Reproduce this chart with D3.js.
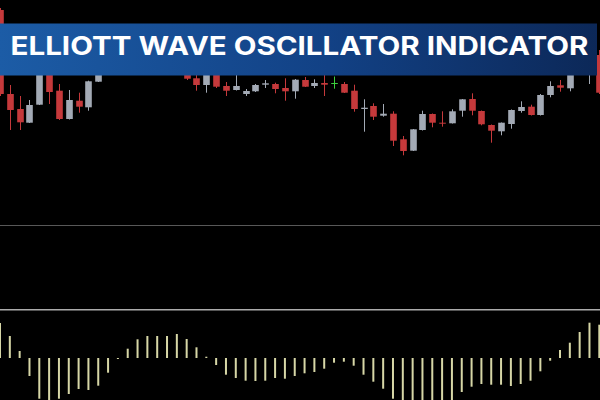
<!DOCTYPE html>
<html>
<head>
<meta charset="utf-8">
<script src="https://cdn.jsdelivr.net/npm/d3@7"></script>
<style>
  html, body { margin: 0; padding: 0; background: #000; }
  svg { display: block; }
</style>
</head>
<body>
<svg id="chart" width="600" height="400"></svg>
<script>
// ---- data ----
const title = "ELLIOTT WAVE OSCILLATOR INDICATOR";
const bars = d3.range(62);
const opens  = [190,106,91,77.3,95.3,140,109.3,81,99.3,92.7,118.3,140,155,145,164,172,160,170,150,138,121.7,115,136,114,110,106,108.7,115.3,116,112,108.7,120,114,117,117,116,109.3,91,94,84.3,86.3,60.7,49.3,70,86,77.3,76.7,89.3,101,89,75,68.7,76,89,93.3,85,105,114.7,111.7,130,128,145];
const highs  = [192,115,104,100,145,145,116,110,107.3,119.3,155,160,162,170,176,175,174,172,155,142,126,138,140,118,126,111,116,120,117.3,121.7,121,123,120.7,126,123.5,118,115.3,100.7,96.7,96,88.7,64,71,89.3,86.5,88.7,90.7,101,106.7,89.5,75.5,77.5,90.5,98.7,95.3,106,118.7,120,134,145,150,150];
const lows   = [104,70,70,77,95,96,80,80.5,87.3,89.3,118,135,140,142,158,154,152,146,132,120,109.3,107.3,112,104,109.5,104,108,112,106.7,99.3,101.3,113,112,104,111.3,107,88.3,68.3,80,83.3,54,44.7,49,69.5,72.7,73.3,76.5,83.3,84.7,74.7,57.3,64.7,71.3,87.3,84.5,84.5,102.7,108.3,108.7,126,116,106];
const closes = [106,90,77.7,95,140,108,81,100,93.3,118.7,145,155,145,165,172,160,170,150,138,121.3,115,134,113.3,109.3,114,109,115,116.7,111,108.7,120.3,113.3,117,115.3,117,107.3,91,92.3,83.3,86.3,59.3,49,70.7,86,77.3,76.3,88.7,100.7,89.3,75.7,69.3,77.3,90,93,85,105,114,112.3,130,140,145,107.3];
const oscValues = [35,22,7,-18,-40.7,-45,-40.7,-36,-31,-32,-27.7,-14.7,-0.7,9.3,18.7,22,22,22,24,19,10.7,1.3,-7,-16.7,-20,-22.7,-23,-22.7,-20,-20.7,-18,-15.3,-14,-10.7,-4.7,-3.7,-7.7,-16.7,-23.7,-30.7,-40.7,-48,-52,-54,-53,-50,-45,-34,-28.7,-26,-26.7,-26.7,-28,-26,-22.7,-13.3,-2.7,8,15.3,26,35.3,33.3];

// ---- drawing ----
const svg = d3.select("#chart");
svg.append("rect").attr("width", 600).attr("height", 400).attr("fill", "#000");

const x = d3.scaleLinear().domain([0, bars.length - 1]).range([0, 599.3]);
const yPrice = d3.scaleLinear().domain([0, 200]).range([200, 0]);
const yOsc = d3.scaleLinear().domain([-42, 42]).range([400, 316]);

const candles = bars.map(i => ({i, o: opens[i], h: highs[i], l: lows[i], c: closes[i]}));
const colorOf = d => d.c > d.o ? "#a3aab5" : (d.c < d.o ? "#c5393b" : "#3ccf3c");

const cg = svg.append("g");
cg.selectAll("line.wick").data(candles).join("line")
  .attr("x1", d => Math.round(x(d.i)) + 0.5).attr("x2", d => Math.round(x(d.i)) + 0.5)
  .attr("y1", d => yPrice(d.h)).attr("y2", d => yPrice(d.l))
  .attr("stroke", colorOf).attr("stroke-width", 1);
const bw = 6.6;
cg.selectAll("rect.body").data(candles).join("rect")
  .attr("x", d => Math.round(x(d.i)) + 0.5 - bw / 2)
  .attr("width", bw)
  .attr("y", d => yPrice(Math.max(d.o, d.c)))
  .attr("height", d => Math.max(1, Math.abs(yPrice(d.o) - yPrice(d.c))))
  .attr("fill", colorOf);

// separators
svg.append("line").attr("x1", 0).attr("x2", 600).attr("y1", 225.5).attr("y2", 225.5)
  .attr("stroke", "#585858").attr("stroke-width", 1.2);
svg.append("line").attr("x1", 0).attr("x2", 600).attr("y1", 309.7).attr("y2", 309.7)
  .attr("stroke", "#ababab").attr("stroke-width", 1.6);

// oscillator histogram
svg.append("g").selectAll("rect").data(bars).join("rect")
  .attr("x", i => x(i) - 1)
  .attr("width", 2)
  .attr("y", i => Math.min(yOsc(oscValues[i]), yOsc(0)))
  .attr("height", i => Math.max(1, Math.abs(yOsc(oscValues[i]) - yOsc(0))))
  .attr("fill", "#d6d6a6");

// title banner
const defs = svg.append("defs");
const grad = defs.append("linearGradient").attr("id", "bannerGrad")
  .attr("x1", "0%").attr("x2", "100%").attr("y1", "0%").attr("y2", "0%");
grad.append("stop").attr("offset", "0%").attr("stop-color", "#1c5ca6");
grad.append("stop").attr("offset", "55%").attr("stop-color", "#124185");
grad.append("stop").attr("offset", "100%").attr("stop-color", "#0c2858");
svg.append("rect").attr("x", 0).attr("y", 23.5).attr("width", 597).attr("height", 52)
  .attr("fill", "url(#bannerGrad)");
svg.append("text")
  .attr("x", 10.5).attr("y", 55)
  .attr("textLength", 578).attr("lengthAdjust", "spacingAndGlyphs")
  .attr("font-family", "Inter, 'Open Sans', sans-serif")
  .attr("font-weight", 700).attr("font-size", 25.5)
  .attr("fill", "#ffffff")
  .text(title);
</script>
</body>
</html>
